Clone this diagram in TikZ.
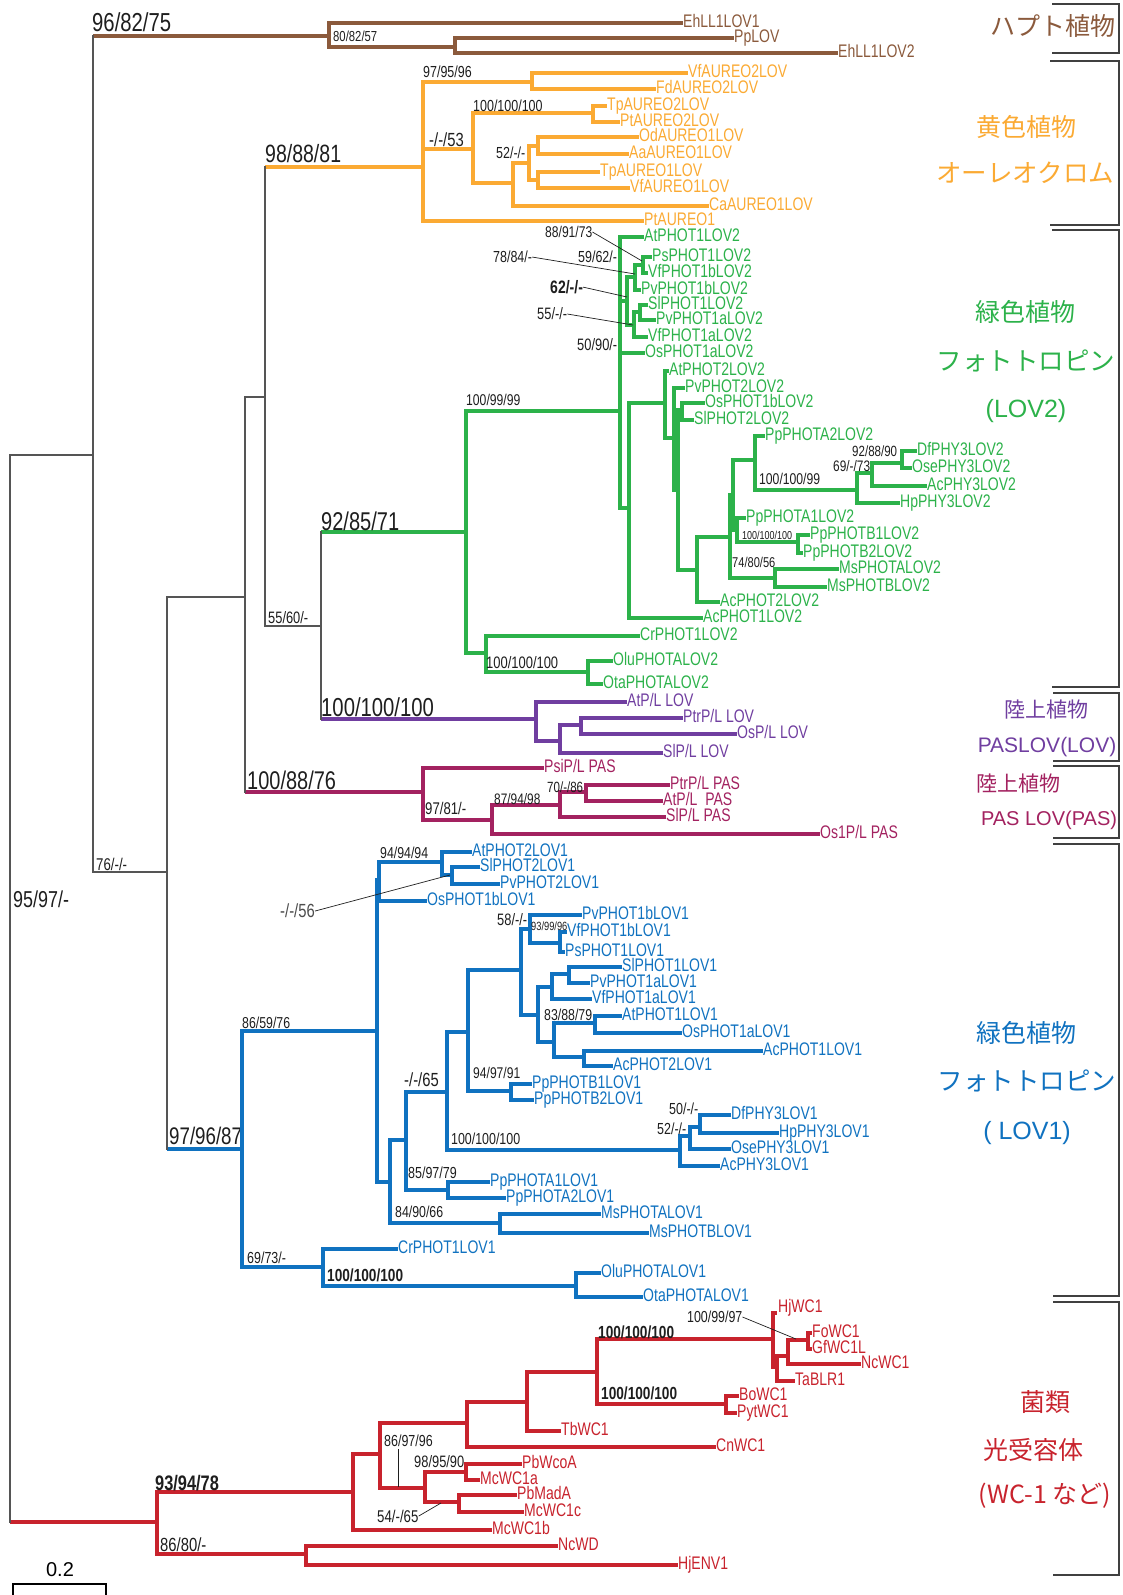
\documentclass[tikz,border=0pt]{standalone}
\usepackage{fontspec}
\setmainfont{Liberation Sans}
\newfontfamily\cf{Liberation Sans}[FakeStretch=0.78]
\newfontfamily\cfl{Liberation Sans}[FakeStretch=0.77]
\newfontfamily\lsans{Liberation Sans}
\newfontfamily\jp{Noto Sans CJK JP}
\usetikzlibrary{calc}
\definecolor{cbrown}{RGB}{139,90,60}
\definecolor{corange}{RGB}{251,170,51}
\definecolor{cgreen}{RGB}{44,178,74}
\definecolor{cpurple}{RGB}{112,62,160}
\definecolor{cmag}{RGB}{163,34,96}
\definecolor{cblue}{RGB}{16,114,192}
\definecolor{cred}{RGB}{200,35,45}
\definecolor{bbgray}{RGB}{85,85,85}
\definecolor{bstext}{RGB}{30,30,30}
\newcommand\LeafAt[4]{\coordinate (#1) at (#2,#3);\node[leaf] (#1t) at (#2+2,#3-2) {#4};}
\newcommand\Edge[2]{\draw[br] (#1) |- (#2);}
\begin{document}
\begin{tikzpicture}[x=1pt,y=-1pt,
  br/.style={line width=3.2pt,line cap=rect,line join=miter},
  stem/.style={line width=3.2pt,line cap=butt},
  bb/.style={line width=1.3pt,draw=bbgray,line cap=rect},
  leaf/.style={anchor=base west,inner sep=0pt,yshift=-6.5pt,font=\cfl\fontsize{18.2}{18.2}\selectfont},
  bs/.style={anchor=base west,inner sep=0pt,text=bstext,font=\cf\fontsize{#1}{#1}\selectfont,yshift={-0.36*#1}},
  bsb/.style={bs=#1,font=\cf\bfseries\fontsize{#1}{#1}\selectfont},
  ldr/.style={line width=0.7pt,draw=bstext},
  brk/.style={line width=1.2pt,draw=black!75},
  jl/.style={inner sep=0pt,font=\jp\fontsize{#1}{#1}\selectfont},
  ll/.style={inner sep=0pt,font=\lsans\fontsize{#1}{#1}\selectfont},
]
\useasboundingbox (0,0) rectangle (1123,1595);
\fill[white] (0,0) rectangle (1123,1595);

% ---------- backbone ----------
\coordinate (root) at (10,988);
\coordinate (nA) at (93,455);
\coordinate (nB) at (167,872);
\coordinate (nC) at (245,597);
\coordinate (nD) at (265,397);
\coordinate (nE) at (321,626);
\coordinate (H1) at (329,36);
\coordinate (O1) at (423,167);
\coordinate (G1) at (466,532);
\coordinate (PU1) at (536,719);
\coordinate (M1) at (423,792);
\coordinate (B0) at (242,1149);
\coordinate (R0) at (157,1522);

\draw[stem,cred] (root |- R0) -- (R0);
\draw[stem,cbrown] (nA |- H1) -- (H1);
\draw[stem,cblue] (nB |- B0) -- (B0);
\draw[stem,cmag] (nC |- M1) -- (M1);
\draw[stem,corange] (nD |- O1) -- (O1);
\draw[stem,cgreen] (nE |- G1) -- (G1);
\draw[stem,cpurple] (nE |- PU1) -- (PU1);
\draw[bb] (root |- nA) -- (root |- R0);
\draw[bb] (root |- nA) -- (nA);
\draw[bb] (nA |- H1) -- (nA |- nB);
\draw[bb] (nA |- nB) -- (nB);
\draw[bb] (nB |- nC) -- (nB |- B0);
\draw[bb] (nB |- nC) -- (nC);
\draw[bb] (nC |- nD) -- (nC |- M1);
\draw[bb] (nC |- nD) -- (nD);
\draw[bb] (nD |- O1) -- (nD |- nE);
\draw[bb] (nD |- nE) -- (nE);
\draw[bb] (nE |- G1) -- (nE |- PU1);

\node[bs=26] (k1) at (92,22) {96/82/75};
\node[bs=17] (k2) at (96,864) {76/-/-};
\node[bs=23] (k3) at (13,899) {95/97/-};
\node[bs=24] (k4) at (169,1136) {97/96/87};
\node[bs=25.6] (k5) at (247,780) {100/88/76};
\node[bs=25] (k6) at (265,153) {98/88/81};
\node[bs=16.5] (k7) at (268,618) {55/60/-};
\node[bs=25.7] (k8) at (321,521) {92/85/71};
\node[bs=26] (k9) at (321,707) {100/100/100};

% ---------- haptophyte ----------
\begin{scope}[color=cbrown]
\coordinate (H2) at (455,47);
\LeafAt{ehA}{681}{23}{EhLL1LOV1}
\LeafAt{ppl}{732}{38}{PpLOV}
\LeafAt{ehB}{836}{53}{EhLL1LOV2}
\Edge{H1}{ehA}\Edge{H1}{H2}\Edge{H2}{ppl}\Edge{H2}{ehB}
\end{scope}
\node[bs=14.5] (k10) at (333,36) {80/82/57};

% ---------- aureochrome ----------
\begin{scope}[color=corange]
\coordinate (O2) at (532,82);
\coordinate (O3) at (473,149);
\coordinate (O4) at (593,113);
\coordinate (O5) at (513,183);
\coordinate (O6) at (529,163);
\coordinate (O7) at (538,146);
\coordinate (O8) at (538,180);
\LeafAt{vfa2}{686}{73}{VfAUREO2LOV}
\LeafAt{fda2}{654}{89}{FdAUREO2LOV}
\LeafAt{tpa2}{605}{106}{TpAUREO2LOV}
\LeafAt{pta2}{618}{122}{PtAUREO2LOV}
\LeafAt{oda1}{637}{137}{OdAUREO1LOV}
\LeafAt{aaa1}{627}{154}{AaAUREO1LOV}
\LeafAt{tpa1}{598}{172}{TpAUREO1LOV}
\LeafAt{vfa1}{628}{188}{VfAUREO1LOV}
\LeafAt{caa1}{707}{206}{CaAUREO1LOV}
\LeafAt{pta1}{642}{221}{PtAUREO1}
\Edge{O1}{O2}\Edge{O1}{O3}\Edge{O1}{pta1}
\Edge{O2}{vfa2}\Edge{O2}{fda2}
\Edge{O3}{O4}\Edge{O3}{O5}
\Edge{O4}{tpa2}\Edge{O4}{pta2}
\Edge{O5}{O6}\Edge{O5}{caa1}
\Edge{O6}{O7}\Edge{O6}{O8}
\Edge{O7}{oda1}\Edge{O7}{aaa1}
\Edge{O8}{tpa1}\Edge{O8}{vfa1}
\end{scope}
\node[bs=16] (k11) at (423,72) {97/95/96};
\node[bs=19] (k12) at (429,140) {-/-/53};
\node[bs=16] (k13) at (473,106) {100/100/100};
\node[bs=16] (k14) at (496,153) {52/-/-};

% ---------- green LOV2 ----------
\begin{scope}[color=cgreen]
\coordinate (X) at (620,411);
\coordinate (P5) at (627,301);
\coordinate (P2) at (635,277);
\coordinate (P1) at (643,265);
\coordinate (P4) at (634,325);
\coordinate (P3) at (640,312);
\coordinate (Y) at (629,508);
\coordinate (Z) at (665,403);
\coordinate (Na) at (674,438);
\coordinate (Nb) at (678,490);
\coordinate (Nc) at (682,410);
\coordinate (Nd) at (697,570);
\coordinate (Ne) at (730,537);
\coordinate (Nf) at (733,495);
\coordinate (Npa) at (755,460);
\coordinate (Nph) at (857,490);
\coordinate (Nph2) at (872,473);
\coordinate (Nph3) at (902,463);
\coordinate (Ng) at (737,530);
\coordinate (Npb) at (798,542);
\coordinate (Nms) at (775,578);
\coordinate (G2) at (486,653);
\coordinate (Nol) at (588,672);
\LeafAt{gAt1}{642}{237}{AtPHOT1LOV2}
\LeafAt{gPs1}{650}{257}{PsPHOT1LOV2}
\LeafAt{gVf1b}{646}{273}{VfPHOT1bLOV2}
\LeafAt{gPv1b}{639}{290}{PvPHOT1bLOV2}
\LeafAt{gSl1}{646}{305}{SlPHOT1LOV2}
\LeafAt{gPv1a}{654}{320}{PvPHOT1aLOV2}
\LeafAt{gVf1a}{646}{337}{VfPHOT1aLOV2}
\LeafAt{gOs1a}{643}{353}{OsPHOT1aLOV2}
\LeafAt{gAt2}{667}{371}{AtPHOT2LOV2}
\LeafAt{gPv2}{683}{388}{PvPHOT2LOV2}
\LeafAt{gOs1b}{703}{403}{OsPHOT1bLOV2}
\LeafAt{gSl2}{692}{420}{SlPHOT2LOV2}
\LeafAt{gPpA2}{763}{436}{PpPHOTA2LOV2}
\LeafAt{gDf}{915}{451}{DfPHY3LOV2}
\LeafAt{gOse}{910}{468}{OsePHY3LOV2}
\LeafAt{gAc3}{925}{486}{AcPHY3LOV2}
\LeafAt{gHp}{898}{503}{HpPHY3LOV2}
\LeafAt{gPpA1}{744}{518}{PpPHOTA1LOV2}
\LeafAt{gPpB1}{808}{535}{PpPHOTB1LOV2}
\LeafAt{gPpB2}{801}{553}{PpPHOTB2LOV2}
\LeafAt{gMsA}{837}{569}{MsPHOTALOV2}
\LeafAt{gMsB}{825}{587}{MsPHOTBLOV2}
\LeafAt{gAc2}{718}{602}{AcPHOT2LOV2}
\LeafAt{gAc1}{701}{618}{AcPHOT1LOV2}
\LeafAt{gCr}{638}{636}{CrPHOT1LOV2}
\LeafAt{gOlu}{611}{661}{OluPHOTALOV2}
\LeafAt{gOta}{601}{684}{OtaPHOTALOV2}
\Edge{G1}{X}\Edge{G1}{G2}
\Edge{X}{gAt1}\Edge{X}{P5}\Edge{X}{gOs1a}\Edge{X}{Y}
\Edge{P5}{P2}\Edge{P5}{P4}
\Edge{P2}{P1}\Edge{P2}{gPv1b}
\Edge{P1}{gPs1}\Edge{P1}{gVf1b}
\Edge{P4}{P3}\Edge{P4}{gVf1a}
\Edge{P3}{gSl1}\Edge{P3}{gPv1a}
\Edge{Y}{Z}\Edge{Y}{gAc1}
\Edge{Z}{gAt2}\Edge{Z}{Na}
\Edge{Na}{gPv2}\Edge{Na}{Nb}
\Edge{Nb}{Nc}\Edge{Nb}{Nd}
\Edge{Nc}{gOs1b}\Edge{Nc}{gSl2}
\Edge{Nd}{Ne}\Edge{Nd}{gAc2}
\Edge{Ne}{Nf}\Edge{Ne}{Nms}
\Edge{Nf}{Npa}\Edge{Nf}{Ng}
\Edge{Npa}{gPpA2}\Edge{Npa}{Nph}
\Edge{Nph}{Nph2}\Edge{Nph}{gHp}
\Edge{Nph2}{Nph3}\Edge{Nph2}{gAc3}
\Edge{Nph3}{gDf}\Edge{Nph3}{gOse}
\Edge{Ng}{gPpA1}\Edge{Ng}{Npb}
\Edge{Npb}{gPpB1}\Edge{Npb}{gPpB2}
\Edge{Nms}{gMsA}\Edge{Nms}{gMsB}
\Edge{G2}{gCr}\Edge{G2}{Nol}
\Edge{Nol}{gOlu}\Edge{Nol}{gOta}
\end{scope}
\node[bs=15.6] (k15) at (466,400) {100/99/99};
\node[bs=15.5] (k16) at (545,232) {88/91/73};
\node[bs=16] (k17) at (493,257) {78/84/-};
\node[bs=16] (k18) at (578,257) {59/62/-};
\node[bsb=18] (k19) at (550,287) {62/-/-};
\node[bs=16.5] (k20) at (537,314) {55/-/-};
\node[bs=16.5] (k21) at (577,345) {50/90/-};
\node[bs=14.8] (k22) at (852,451) {92/88/90};
\node[bs=15.2] (k23) at (833,466) {69/-/73};
\node[bs=15.6] (k24) at (759,479) {100/100/99};
\node[bs=11.5] (k25) at (742,535) {100/100/100};
\node[bs=14.2] (k26) at (732,562) {74/80/56};
\node[bs=16.6] (k27) at (486,663) {100/100/100};
\coordinate (t16) at (642,261);
\coordinate (t17) at (635,274);
\coordinate (t19) at (627,297);
\coordinate (t20) at (633,325);
\draw[ldr] (k16.east) -- (t16);
\draw[ldr] (k17.east) -- (t17);
\draw[ldr] (k19.east) -- (t19);
\draw[ldr] (k20.east) -- (t20);

% ---------- purple ----------
\begin{scope}[color=cpurple]
\coordinate (PU2) at (560,741);
\coordinate (PU3) at (581,725);
\LeafAt{uAt}{625}{702}{AtP/L LOV}
\LeafAt{uPtr}{681}{718}{PtrP/L LOV}
\LeafAt{uOs}{735}{734}{OsP/L LOV}
\LeafAt{uSl}{661}{753}{SlP/L LOV}
\Edge{PU1}{uAt}\Edge{PU1}{PU2}
\Edge{PU2}{PU3}\Edge{PU2}{uSl}
\Edge{PU3}{uPtr}\Edge{PU3}{uOs}
\end{scope}

% ---------- magenta ----------
\begin{scope}[color=cmag]
\coordinate (M2) at (492,820);
\coordinate (M3) at (560,805);
\coordinate (M4) at (586,792);
\LeafAt{mPsi}{542}{768}{PsiP/L PAS}
\LeafAt{mPtr}{668}{785}{PtrP/L PAS}
\LeafAt{mAt}{661}{801}{AtP/L\ \ PAS}
\LeafAt{mSl}{664}{817}{SlP/L PAS}
\LeafAt{mOs}{818}{834}{Os1P/L PAS}
\Edge{M1}{mPsi}\Edge{M1}{M2}
\Edge{M2}{M3}\Edge{M2}{mOs}
\Edge{M3}{M4}\Edge{M3}{mSl}
\Edge{M4}{mPtr}\Edge{M4}{mAt}
\end{scope}
\node[bs=16.9] (k28) at (425,808) {97/81/-};
\node[bs=15.2] (k29) at (494,799) {87/94/98};
\node[bs=14.8] (k30) at (547,787) {70/-/86};

% ---------- blue LOV1 ----------
\begin{scope}[color=cblue]
\coordinate (B1) at (377,1031);
\coordinate (B2) at (379,880);
\coordinate (B3) at (442,862);
\coordinate (B4) at (452,875);
\coordinate (B390) at (390,1182);
\coordinate (B406) at (406,1140);
\coordinate (Bpa) at (448,1190);
\coordinate (Bms) at (500,1223);
\coordinate (B447) at (447,1092);
\coordinate (Bph) at (680,1150);
\coordinate (Bph2) at (690,1136);
\coordinate (Bph3) at (700,1127);
\coordinate (B468) at (468,1032);
\coordinate (Bpb) at (511,1091);
\coordinate (B521) at (521,970);
\coordinate (B530) at (530,929);
\coordinate (B560) at (560,943);
\coordinate (B538) at (538,1015);
\coordinate (B552) at (552,987);
\coordinate (B569) at (569,974);
\coordinate (B554) at (554,1042);
\coordinate (B595) at (595,1023);
\coordinate (B584) at (584,1057);
\coordinate (Bc) at (323,1267);
\coordinate (Bol) at (576,1286);
\LeafAt{bAt2}{470}{852}{AtPHOT2LOV1}
\LeafAt{bSl2}{478}{867}{SlPHOT2LOV1}
\LeafAt{bPv2}{498}{884}{PvPHOT2LOV1}
\LeafAt{bOs1b}{425}{901}{OsPHOT1bLOV1}
\LeafAt{bPv1b}{580}{915}{PvPHOT1bLOV1}
\LeafAt{bVf1b}{565}{932}{VfPHOT1bLOV1}
\LeafAt{bPs1}{563}{952}{PsPHOT1LOV1}
\LeafAt{bSl1}{620}{967}{SlPHOT1LOV1}
\LeafAt{bPv1a}{588}{983}{PvPHOT1aLOV1}
\LeafAt{bVf1a}{590}{999}{VfPHOT1aLOV1}
\LeafAt{bAt1}{620}{1016}{AtPHOT1LOV1}
\LeafAt{bOs1a}{680}{1033}{OsPHOT1aLOV1}
\LeafAt{bAc1}{761}{1051}{AcPHOT1LOV1}
\LeafAt{bAc2}{611}{1066}{AcPHOT2LOV1}
\LeafAt{bPpB1}{530}{1084}{PpPHOTB1LOV1}
\LeafAt{bPpB2}{532}{1100}{PpPHOTB2LOV1}
\LeafAt{bDf}{729}{1115}{DfPHY3LOV1}
\LeafAt{bHp}{777}{1133}{HpPHY3LOV1}
\LeafAt{bOse}{729}{1149}{OsePHY3LOV1}
\LeafAt{bAc3}{718}{1166}{AcPHY3LOV1}
\LeafAt{bPpA1}{488}{1182}{PpPHOTA1LOV1}
\LeafAt{bPpA2}{504}{1198}{PpPHOTA2LOV1}
\LeafAt{bMsA}{599}{1214}{MsPHOTALOV1}
\LeafAt{bMsB}{647}{1233}{MsPHOTBLOV1}
\LeafAt{bCr}{396}{1249}{CrPHOT1LOV1}
\LeafAt{bOlu}{599}{1273}{OluPHOTALOV1}
\LeafAt{bOta}{641}{1297}{OtaPHOTALOV1}
\Edge{B0}{B1}\Edge{B0}{Bc}
\Edge{B1}{B2}\Edge{B1}{B390}
\Edge{B2}{B3}\Edge{B2}{bOs1b}
\Edge{B3}{bAt2}\Edge{B3}{B4}
\Edge{B4}{bSl2}\Edge{B4}{bPv2}
\Edge{B390}{B406}\Edge{B390}{Bms}
\Edge{B406}{B447}\Edge{B406}{Bpa}
\Edge{Bpa}{bPpA1}\Edge{Bpa}{bPpA2}
\Edge{Bms}{bMsA}\Edge{Bms}{bMsB}
\Edge{B447}{B468}\Edge{B447}{Bph}
\Edge{Bph}{Bph2}\Edge{Bph}{bAc3}
\Edge{Bph2}{Bph3}\Edge{Bph2}{bOse}
\Edge{Bph3}{bDf}\Edge{Bph3}{bHp}
\Edge{B468}{B521}\Edge{B468}{Bpb}
\Edge{Bpb}{bPpB1}\Edge{Bpb}{bPpB2}
\Edge{B521}{B530}\Edge{B521}{B538}
\Edge{B530}{bPv1b}\Edge{B530}{B560}
\Edge{B560}{bVf1b}\Edge{B560}{bPs1}
\Edge{B538}{B552}\Edge{B538}{B554}
\Edge{B552}{B569}\Edge{B552}{bVf1a}
\Edge{B569}{bSl1}\Edge{B569}{bPv1a}
\Edge{B554}{B595}\Edge{B554}{B584}
\Edge{B595}{bAt1}\Edge{B595}{bOs1a}
\Edge{B584}{bAc1}\Edge{B584}{bAc2}
\Edge{Bc}{bCr}\Edge{Bc}{Bol}
\Edge{Bol}{bOlu}\Edge{Bol}{bOta}
\end{scope}
\node[bs=15.8] (k31) at (242,1023) {86/59/76};
\node[bs=15.8] (k32) at (380,853) {94/94/94};
\node[bs=19,text=black!70] (k33) at (280,911) {-/-/56};
\node[bs=16.5] (k34) at (497,920) {58/-/-};
\node[bs=11.9] (k35) at (531,926) {93/99/96};
\node[bs=15.8] (k36) at (544,1015) {83/88/79};
\node[bs=15.5] (k37) at (473,1073) {94/97/91};
\node[bs=19] (k38) at (404,1080) {-/-/65};
\node[bs=15.9] (k39) at (451,1139) {100/100/100};
\node[bs=16] (k40) at (669,1109) {50/-/-};
\node[bs=16] (k41) at (657,1129) {52/-/-};
\node[bs=16] (k42) at (408,1173) {85/97/79};
\node[bs=15.8] (k43) at (395,1212) {84/90/66};
\node[bs=16] (k44) at (247,1258) {69/73/-};
\node[bsb=17.5] (k45) at (327,1275) {100/100/100};
\coordinate (t33) at (450,875);
\draw[ldr] (k33.east) -- (t33);

% ---------- red fungi ----------
\begin{scope}[color=cred]
\coordinate (Rnc) at (306,1554);
\coordinate (R1) at (353,1492);
\coordinate (R2) at (380,1454);
\coordinate (R3) at (467,1423);
\coordinate (R4) at (527,1402);
\coordinate (R5) at (597,1372);
\coordinate (R6) at (773,1339);
\coordinate (R7) at (777,1367);
\coordinate (R8) at (788,1356);
\coordinate (R9) at (808,1340);
\coordinate (Rbo) at (726,1404);
\coordinate (R10) at (425,1488);
\coordinate (R11) at (466,1472);
\coordinate (R12) at (459,1502);
\coordinate (rHj) at (775,1313);
\node[leaf] (rHjt) at (778,1306) {HjWC1};
\LeafAt{rFo}{810}{1333}{FoWC1}
\LeafAt{rGf}{810}{1349}{GfWC1L}
\LeafAt{rNc}{859}{1364}{NcWC1}
\LeafAt{rTa}{793}{1381}{TaBLR1}
\LeafAt{rBo}{737}{1396}{BoWC1}
\LeafAt{rPy}{735}{1413}{PytWC1}
\LeafAt{rTb}{559}{1431}{TbWC1}
\LeafAt{rCn}{714}{1447}{CnWC1}
\LeafAt{rPb}{520}{1464}{PbWcoA}
\LeafAt{rMa}{478}{1480}{McWC1a}
\LeafAt{rPbM}{515}{1495}{PbMadA}
\LeafAt{rMc}{522}{1512}{McWC1c}
\LeafAt{rMb}{490}{1530}{McWC1b}
\LeafAt{rNcWD}{556}{1546}{NcWD}
\LeafAt{rHjE}{676}{1565}{HjENV1}
\Edge{R0}{R1}\Edge{R0}{Rnc}
\Edge{Rnc}{rNcWD}\Edge{Rnc}{rHjE}
\Edge{R1}{R2}\Edge{R1}{rMb}
\Edge{R2}{R3}\Edge{R2}{R10}
\Edge{R3}{R4}\Edge{R3}{rCn}
\Edge{R4}{R5}\Edge{R4}{rTb}
\Edge{R5}{R6}\Edge{R5}{Rbo}
\Edge{R6}{rHj}\Edge{R6}{R7}
\Edge{R7}{R8}\Edge{R7}{rTa}
\Edge{R8}{R9}\Edge{R8}{rNc}
\Edge{R9}{rFo}\Edge{R9}{rGf}
\Edge{Rbo}{rBo}\Edge{Rbo}{rPy}
\Edge{R10}{R11}\Edge{R10}{R12}
\Edge{R11}{rPb}\Edge{R11}{rMa}
\Edge{R12}{rPbM}\Edge{R12}{rMc}
\end{scope}
\node[bsb=21] (k46) at (155,1483) {93/94/78};
\node[bs=19] (k47) at (160,1545) {86/80/-};
\node[bsb=17.5] (k48) at (598,1332) {100/100/100};
\node[bsb=17.5] (k49) at (601,1393) {100/100/100};
\node[bs=15.9] (k50) at (687,1317) {100/99/97};
\node[bs=16] (k51) at (384,1441) {86/97/96};
\node[bs=16.5] (k52) at (414,1462) {98/95/90};
\node[bs=17] (k53) at (377,1516) {54/-/65};
\coordinate (t50) at (796,1339);
\coordinate (t51a) at (398,1449);
\coordinate (t51b) at (398,1487);
\coordinate (t53) at (441,1503);
\draw[ldr] (k50.east) -- (t50);
\draw[ldr] (t51a) -- (t51b);
\draw[ldr] (k53.east) -- (t53);

% ---------- scale bar ----------
\coordinate (s1) at (13,1584);
\coordinate (s2) at (106,1584);
\draw[line width=1.1pt] ($(s1)+(0,11)$) -- (s1) -- (s2) -- ($(s2)+(0,11)$);
\node[ll=20] (sc) at (60,1570) {0.2};

% ---------- brackets and group labels ----------
\draw[brk] (1052,4) -- (1119,4) -- (1119,53) -- (1052,53);
\draw[brk] (1050,61) -- (1119,61) -- (1119,225) -- (1050,225);
\draw[brk] (1052,230) -- (1119,230) -- (1119,687) -- (1052,687);
\draw[brk] (1053,693) -- (1119,693) -- (1119,761) -- (1053,761);
\draw[brk] (1053,766) -- (1119,766) -- (1119,838) -- (1053,838);
\draw[brk] (1053,844) -- (1119,844) -- (1119,1296) -- (1053,1296);
\draw[brk] (1053,1302) -- (1119,1302) -- (1119,1575) -- (1053,1575);

\node[jl=25,text=cbrown] (j1) at (1053,26) {ハプト植物};
\node[jl=25,text=corange] (j2) at (1026,127) {黄色植物};
\node[jl=25.5,text=corange] (j3) at (1025,173) {オーレオクロム};
\node[jl=25,text=cgreen] (j4) at (1025,312) {緑色植物};
\node[jl=25.5,text=cgreen] (j5) at (1026,361) {フォトトロピン};
\node[ll=25,text=cgreen] (j6) at (1026,411) {(LOV2)};
\node[jl=21,text=cpurple] (j7) at (1046,710) {陸上植物};
\node[ll=21,text=cpurple] (j8) at (1047,747) {PASLOV(LOV)};
\node[jl=21,text=cmag] (j9) at (1018,784) {陸上植物};
\node[ll=20,text=cmag] (j10) at (1049,820) {PAS LOV(PAS)};
\node[jl=25,text=cblue] (j11) at (1026,1033) {緑色植物};
\node[jl=25.5,text=cblue] (j12) at (1027,1081) {フォトトロピン};
\node[ll=25,text=cblue] (j13) at (1027,1133) {( LOV1)};
\node[jl=25,text=cred] (j14) at (1045,1402) {菌類};
\node[jl=25,text=cred] (j15) at (1033,1450) {光受容体};
\node[jl=25,text=cred] (j16) at (1045,1496) {(WC-1 など)};
\end{tikzpicture}
\end{document}
